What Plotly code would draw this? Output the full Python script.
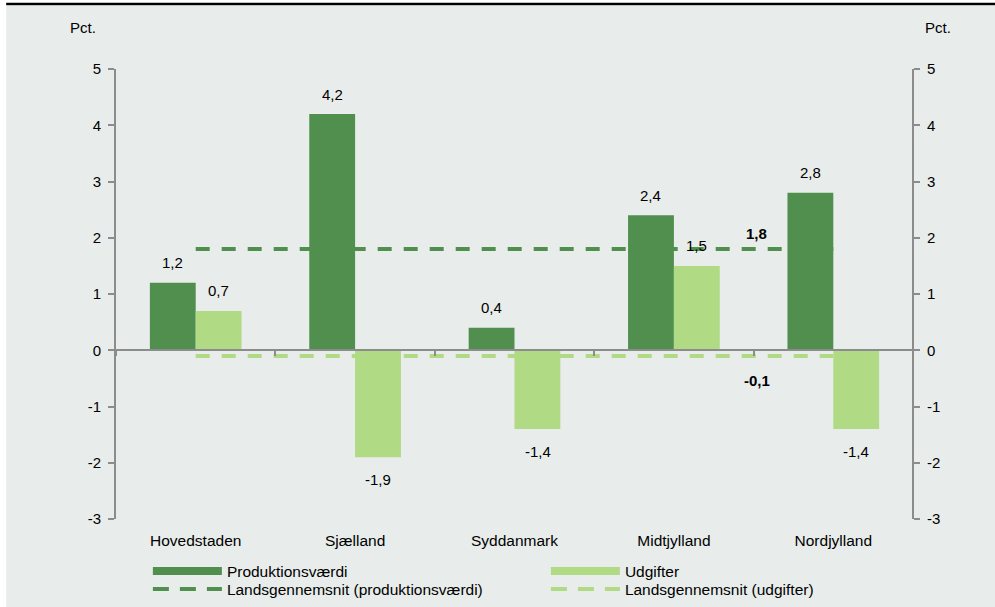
import plotly.graph_objects as go

categories = ["Hovedstaden", "Sjælland", "Syddanmark", "Midtjylland", "Nordjylland"]
produktionsvaerdi = [1.2, 4.2, 0.4, 2.4, 2.8]
udgifter = [0.7, -1.9, -1.4, 1.5, -1.4]
avg_produktion = 1.8
avg_udgifter = -0.1
y_ticks = [-3, -2, -1, 0, 1, 2, 3, 4, 5]

DARK = "#508F4E"
LIGHT = "#B0DA84"
BG = "#E8EDEB"
AXIS = "#8C8C8C"
FONT = "Liberation Sans, Arial, sans-serif"


def fmt(v):
    return f"{v:.1f}".replace(".", ",")


fig = go.Figure()

fig.add_trace(go.Bar(x=categories, y=produktionsvaerdi, marker_color=DARK,
                     marker_line_width=0, showlegend=False, name="Produktionsværdi"))
fig.add_trace(go.Bar(x=categories, y=udgifter, marker_color=LIGHT,
                     marker_line_width=0, showlegend=False, name="Udgifter"))

# legend entries
fig.add_trace(go.Scatter(x=[None], y=[None], mode="lines", name="Produktionsværdi",
                         line=dict(color=DARK, width=8), legend="legend"))
fig.add_trace(go.Scatter(x=[None], y=[None], mode="lines", name="Udgifter",
                         line=dict(color=LIGHT, width=8), legend="legend"))
fig.add_trace(go.Scatter(x=[None], y=[None], mode="lines",
                         name="Landsgennemsnit (produktionsværdi)",
                         line=dict(color=DARK, width=4, dash="16px,11px"), legend="legend2"))
fig.add_trace(go.Scatter(x=[None], y=[None], mode="lines",
                         name="Landsgennemsnit (udgifter)",
                         line=dict(color=LIGHT, width=4, dash="16px,11px"), legend="legend2"))

# helper trace for zero-line axis and right axis
fig.add_trace(go.Scatter(x=categories, y=produktionsvaerdi, xaxis="x2", yaxis="y2",
                         mode="markers", marker=dict(opacity=0), showlegend=False,
                         hoverinfo="skip"))

shapes = [
    # background panel
    dict(type="rect", xref="paper", yref="paper", x0=-0.1378, x1=1.11, y0=-0.2, y1=1.14,
         fillcolor=BG, line_width=0, layer="below"),
    # top rule
    dict(type="line", xref="paper", yref="paper", x0=-0.1378, x1=1.11, y0=1.1445, y1=1.1445,
         line=dict(color="black", width=2.5)),
    # average lines
    dict(type="line", xref="x", yref="y", x0=categories[0], x1=categories[-1],
         y0=avg_produktion, y1=avg_produktion, layer="below",
         line=dict(color=DARK, width=4, dash="14px,12px")),
    dict(type="line", xref="x", yref="y", x0=categories[0], x1=categories[-1],
         y0=avg_udgifter, y1=avg_udgifter, layer="below",
         line=dict(color=LIGHT, width=4, dash="14px,12px")),
]

annotations = []
for c, v in zip(categories, produktionsvaerdi):
    annotations.append(dict(x=c, y=v, text=fmt(v), showarrow=False, xshift=-23,
                            yshift=20 if v >= 0 else -22))
for c, v in zip(categories, udgifter):
    annotations.append(dict(x=c, y=v, text=fmt(v), showarrow=False, xshift=23,
                            yshift=20 if v >= 0 else -22))
annotations.append(dict(x=3.52, y=avg_produktion, text="<b>" + fmt(avg_produktion) + "</b>",
                        showarrow=False, yshift=16))
annotations.append(dict(x=3.52, y=avg_udgifter, text="<b>" + fmt(avg_udgifter) + "</b>",
                        showarrow=False, yshift=-25))
annotations.append(dict(xref="paper", yref="paper", x=-0.041, y=1.0933, text="Pct.",
                        showarrow=False, xanchor="center", yanchor="middle"))
annotations.append(dict(xref="paper", yref="paper", x=1.031, y=1.0933, text="Pct.",
                        showarrow=False, xanchor="center", yanchor="middle"))

yaxis_common = dict(range=[-3, 5], tickvals=y_ticks, ticktext=[str(t) for t in y_ticks],
                    ticks="outside", ticklen=6, tickwidth=2, tickcolor=AXIS,
                    showline=True, linecolor=AXIS, linewidth=2, showgrid=False,
                    zeroline=False, fixedrange=True)

legend_common = dict(orientation="h", x=0.04, xanchor="left", yanchor="top",
                     entrywidth=314, entrywidthmode="pixels", itemwidth=69,
                     bgcolor="rgba(0,0,0,0)", font=dict(size=15.5), tracegroupgap=0)

fig.update_layout(
    width=995, height=607,
    margin=dict(l=116, r=82, t=69, b=88, autoexpand=False),
    paper_bgcolor="white", plot_bgcolor=BG,
    font=dict(family=FONT, size=15, color="black"),
    barmode="group", bargap=0.425, bargroupgap=0,
    shapes=shapes, annotations=annotations,
    xaxis=dict(type="category", categoryorder="array", categoryarray=categories,
               range=[-0.5, 4.5], showline=False, ticks="", showgrid=False,
               zeroline=False, ticklabelstandoff=10, tickfont=dict(size=15.5)),
    xaxis2=dict(type="category", categoryorder="array", categoryarray=categories,
                range=[-0.5, 4.5], overlaying="x", anchor="free", position=0.375,
                showline=True, linecolor=AXIS, linewidth=2, ticks="outside",
                tickson="boundaries", ticklen=5, tickwidth=2, tickcolor=AXIS,
                showticklabels=False, showgrid=False, zeroline=False),
    yaxis=dict(**yaxis_common, side="left", ticklabelstandoff=4),
    yaxis2=dict(**yaxis_common, side="right", overlaying="y", anchor="free",
                position=1, ticklabelstandoff=4),
    legend=dict(**legend_common, y=-0.079),
    legend2=dict(**legend_common, y=-0.119),
    showlegend=True,
)

fig.write_html("out.html", config={"displayModeBar": False},
               post_script="document.body.style.margin='0px';")
